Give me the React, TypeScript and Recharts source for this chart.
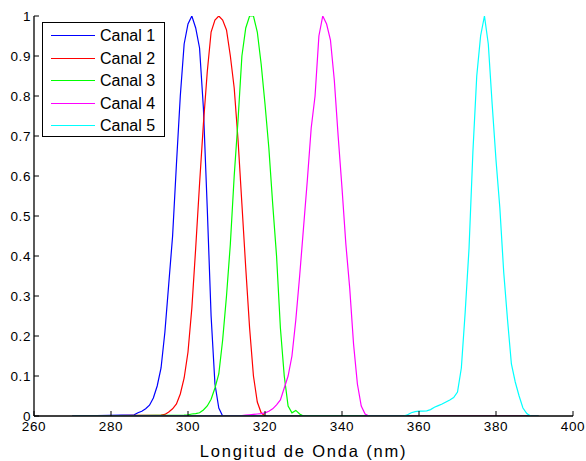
import React from 'react';
import { LineChart, Line, XAxis, YAxis, Legend, Label } from 'recharts';

// wavelengths (nm) and normalised response for each channel
const canal1Nm = [270, 286, 287, 288, 289, 290, 291, 292, 293, 294, 295, 296, 297, 298, 299, 300, 301, 302, 303, 304, 305, 306, 307, 308, 309, 391];
const canal1Val = [0, 0.003, 0.008, 0.012, 0.018, 0.027, 0.045, 0.075, 0.12, 0.21, 0.33, 0.45, 0.63, 0.8, 0.93, 0.98, 1.0, 0.97, 0.92, 0.77, 0.52, 0.25, 0.08, 0.02, 0, 0];

const canal2Nm = [270, 293, 294, 295, 296, 297, 298, 299, 300, 301, 302, 303, 304, 305, 306, 307, 308, 309, 310, 311, 312, 313, 314, 315, 316, 317, 318, 319, 320, 391];
const canal2Val = [0, 0.002, 0.004, 0.01, 0.018, 0.03, 0.055, 0.095, 0.16, 0.27, 0.42, 0.58, 0.73, 0.86, 0.96, 0.99, 1.0, 0.99, 0.965, 0.9, 0.82, 0.69, 0.53, 0.37, 0.22, 0.1, 0.035, 0.008, 0, 0];

const canal3Nm = [270, 299, 300, 301, 302, 303, 304, 305, 306, 307, 308, 309, 310, 311, 312, 313, 314, 315, 316, 317, 318, 319, 320, 321, 322, 323, 324, 325, 326, 327, 328, 329, 330, 391];
const canal3Val = [0, 0.002, 0.003, 0.005, 0.006, 0.008, 0.015, 0.025, 0.042, 0.07, 0.105, 0.19, 0.3, 0.43, 0.6, 0.74, 0.9, 0.97, 1.0, 1.0, 0.96, 0.88, 0.78, 0.67, 0.53, 0.4, 0.22, 0.1, 0.025, 0.008, 0.014, 0.005, 0, 0];

const canal4Nm = [270, 314, 315, 316, 317, 318, 319, 320, 321, 322, 323, 324, 325, 326, 327, 328, 329, 330, 331, 332, 333, 334, 335, 336, 337, 338, 339, 340, 341, 342, 343, 344, 345, 346, 347, 391];
const canal4Val = [0, 0.001, 0.002, 0.003, 0.004, 0.005, 0.006, 0.008, 0.012, 0.018, 0.028, 0.04, 0.07, 0.1, 0.15, 0.24, 0.35, 0.47, 0.59, 0.72, 0.8, 0.95, 1.0, 0.98, 0.94, 0.84, 0.7, 0.57, 0.43, 0.32, 0.18, 0.08, 0.025, 0.005, 0, 0];

const canal5Nm = [270, 356, 357, 358, 359, 360, 361, 362, 363, 364, 365, 366, 367, 368, 369, 370, 371, 372, 373, 374, 375, 376, 377, 378, 379, 380, 381, 382, 383, 384, 385, 386, 387, 388, 389, 391];
const canal5Val = [0, 0, 0.003, 0.008, 0.011, 0.012, 0.012, 0.013, 0.016, 0.022, 0.026, 0.03, 0.035, 0.04, 0.046, 0.06, 0.12, 0.26, 0.42, 0.66, 0.85, 0.95, 1.0, 0.93, 0.78, 0.64, 0.52, 0.36, 0.24, 0.13, 0.085, 0.05, 0.02, 0.006, 0, 0];

const seriesNames = ['Canal 1', 'Canal 2', 'Canal 3', 'Canal 4', 'Canal 5'];
const seriesColors = ['#0000ff', '#ff0000', '#00ff00', '#ff00ff', '#00ffff'];

const xTicks = [260, 280, 300, 320, 340, 360, 380, 400];
const yTicks = [0, 0.1, 0.2, 0.3, 0.4, 0.5, 0.6, 0.7, 0.8, 0.9, 1];

const zip = (nm: number[], val: number[]) => nm.map((x, i) => ({ nm: x, v: val[i] }));

const series = [
  zip(canal1Nm, canal1Val),
  zip(canal2Nm, canal2Val),
  zip(canal3Nm, canal3Val),
  zip(canal4Nm, canal4Val),
  zip(canal5Nm, canal5Val),
];

const font = '"Liberation Sans", Arial, sans-serif';
const tickStyle = { fontSize: 13.5, fill: '#000', fontFamily: font, letterSpacing: 0.6 };

const renderLegend = () => (
  <div
    style={{
      position: 'relative',
      width: 123,
      height: 115,
      boxSizing: 'border-box',
      border: '1.5px solid #000',
      background: '#fff',
      fontFamily: font,
    }}
  >
    {seriesNames.map((name, i) => (
      <div key={name} style={{ position: 'absolute', left: 0, top: 13 + 22.5 * i - 11, height: 22, width: 120 }}>
        <div style={{ position: 'absolute', left: 8, width: 44, top: 10, borderTop: `1.5px solid ${seriesColors[i]}` }} />
        <span style={{ position: 'absolute', left: 57, top: 1, fontSize: 16, lineHeight: '20px', color: '#000', whiteSpace: 'nowrap' }}>
          {name}
        </span>
      </div>
    ))}
  </div>
);

export default function App() {
  return (
    <div style={{ position: 'absolute', left: 0, top: 0, background: '#fff' }}>
      <LineChart width={586} height={461} margin={{ top: 16, right: 13, bottom: 0, left: 0 }}>
        <XAxis
          dataKey="nm"
          type="number"
          domain={[260, 400]}
          ticks={xTicks}
          allowDataOverflow
          height={45}
          tickSize={-5}
          tickMargin={10}
          tick={tickStyle}
          stroke="#000"
          axisLine={{ stroke: '#000', strokeWidth: 1.3 }}
          tickLine={{ stroke: '#000' }}
        >
          <Label
            value="Longitud de Onda (nm)"
            position="insideBottom"
            offset={4}
            style={{ fontSize: 16.5, fill: '#000', fontFamily: font, letterSpacing: 1.8 }}
          />
        </XAxis>
        <XAxis
          xAxisId="top"
          orientation="top"
          type="number"
          domain={[260, 400]}
          ticks={xTicks}
          height={0}
          tickSize={-5}
          tickFormatter={() => ''}
          axisLine={{ stroke: '#000', strokeWidth: 1.3 }}
          tickLine={{ stroke: '#000' }}
        />
        <YAxis
          type="number"
          domain={[0, 1]}
          ticks={yTicks}
          allowDataOverflow
          width={34}
          tickSize={-5}
          tickMargin={8}
          tick={tickStyle}
          axisLine={{ stroke: '#000', strokeWidth: 1.3 }}
          tickLine={{ stroke: '#000' }}
        />
        <YAxis
          yAxisId="right"
          orientation="right"
          type="number"
          domain={[0, 1]}
          ticks={yTicks}
          width={0}
          tickSize={-5}
          tickFormatter={() => ''}
          axisLine={{ stroke: '#000', strokeWidth: 1.3 }}
          tickLine={{ stroke: '#000' }}
        />
        <Legend
          content={renderLegend}
          layout="vertical"
          align="center"
          verticalAlign="middle"
          wrapperStyle={{ left: 42, top: 22, width: 123, height: 115 }}
        />
        {series.map((data, i) => (
          <Line
            key={seriesNames[i]}
            data={data}
            dataKey="v"
            name={seriesNames[i]}
            type="linear"
            stroke={seriesColors[i]}
            strokeWidth={1.2}
            dot={false}
            activeDot={false}
            isAnimationActive={false}
          />
        ))}
      </LineChart>
    </div>
  );
}
